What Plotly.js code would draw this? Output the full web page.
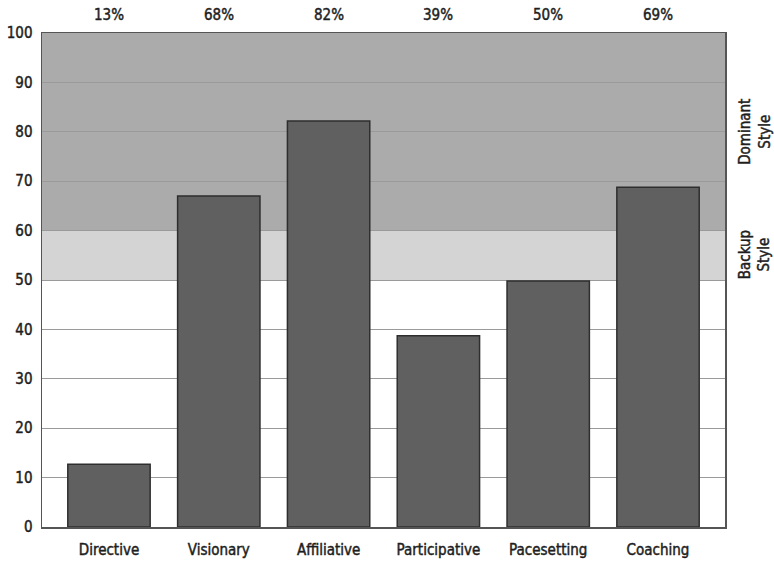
<!DOCTYPE html>
<html><head><meta charset="utf-8">
<script src="https://cdn.plot.ly/plotly-3.0.1.min.js"></script>
<style>html,body{margin:0;padding:0;background:#fff;}#chart{width:774px;height:562px;}
#chart text{stroke:#1e1e1e;stroke-width:0.45px;}</style>
</head><body><div id="chart"></div>
<script>
const categories = ["Directive","Visionary","Affiliative","Participative","Pacesetting","Coaching"];
const values = [12.7, 67, 82.2, 38.7, 49.8, 68.8];
const percentLabels = ["13%","68%","82%","39%","50%","69%"];
const yTicks = [0,10,20,30,40,50,60,70,80,90,100];
const bands = [
  {from: 60, to: 100, color: "#ababab", label: "Dominant<br>Style"},
  {from: 50, to: 60, color: "#d4d4d4", label: "Backup<br>Style"}
];

const FONT = "'DejaVu Sans Condensed', 'Liberation Sans Narrow', sans-serif";

const shapes = bands.map(b => ({
  type: "rect", xref: "paper", yref: "y", x0: 0, x1: 1, y0: b.from, y1: b.to,
  fillcolor: b.color, line: {width: 0}, layer: "below"
}));

const annotations = percentLabels.map((t, i) => ({
  x: categories[i], y: 1, xref: "x", yref: "paper", yanchor: "bottom", yshift: 7,
  text: t, showarrow: false, font: {family: FONT, size: 15, color: "#1e1e1e"}
})).concat(bands.map(b => ({
  x: 1, xref: "paper", y: (b.from + b.to) / 2, yref: "y", xanchor: "left", xshift: 9,
  text: b.label, showarrow: false, textangle: -90,
  font: {family: FONT, size: 15, color: "#1e1e1e"}
})));

Plotly.newPlot("chart", [{
  type: "bar", x: categories, y: values, width: 0.75,
  marker: {color: "#606060", line: {color: "#2e2e2e", width: 1.5}},
  hoverinfo: "none"
}], {
  width: 774, height: 562,
  margin: {l: 42, r: 49, t: 33, b: 35},
  paper_bgcolor: "#fff", plot_bgcolor: "rgba(0,0,0,0)",
  showlegend: false,
  font: {family: FONT, size: 15, color: "#1e1e1e"},
  xaxis: {range: [-0.61, 5.61], showgrid: false, showline: true, mirror: true,
          linecolor: "#555", linewidth: 1.5, ticks: "", ticklabelstandoff: 8,
          tickfont: {family: FONT, size: 15, color: "#1e1e1e"}},
  yaxis: {range: [0, 100], tickvals: yTicks, showgrid: true, gridcolor: "#9a9a9a", gridwidth: 1,
          showline: true, mirror: true, linecolor: "#555", linewidth: 1.5, ticks: "",
          ticklabelstandoff: 5, zeroline: false,
          tickfont: {family: FONT, size: 15, color: "#1e1e1e"}},
  shapes: shapes,
  annotations: annotations
}, {staticPlot: true});
</script></body></html>
